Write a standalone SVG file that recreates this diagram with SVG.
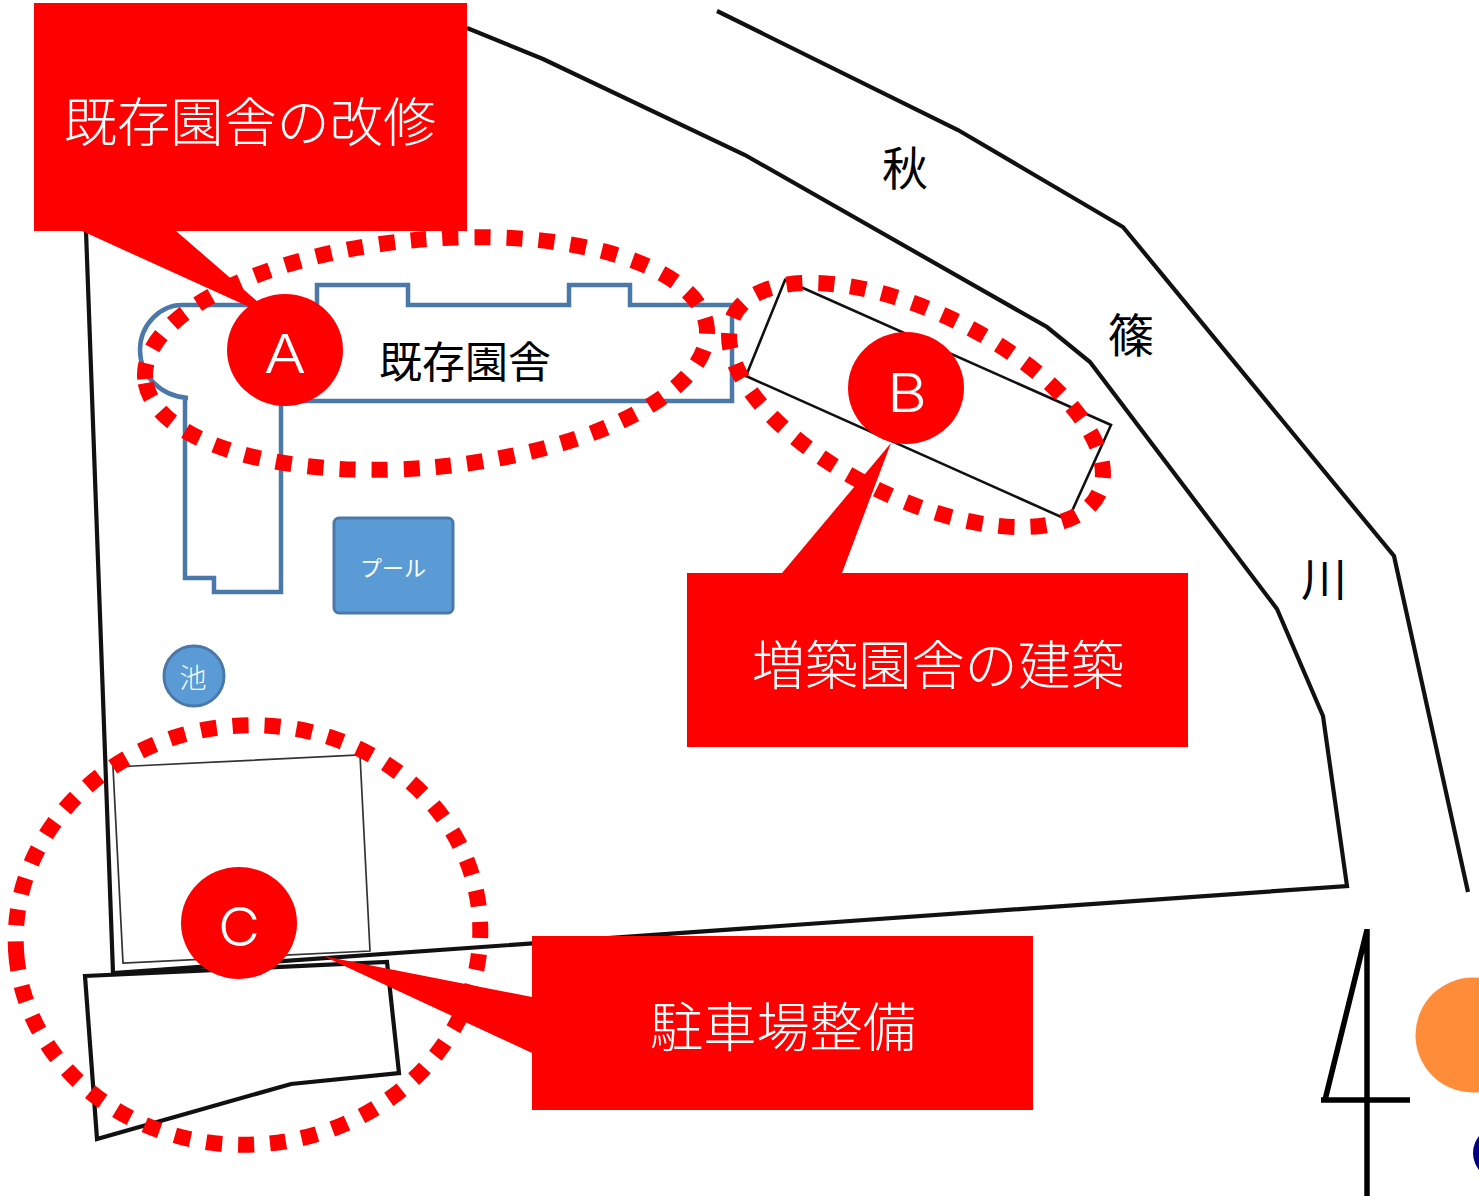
<svg xmlns="http://www.w3.org/2000/svg" width="1479" height="1196" viewBox="0 0 1479 1196">
<style>
text{font-family:"Noto Sans CJK JP","Noto Sans",sans-serif;text-anchor:middle}
.w{fill:#fff}.k{fill:#000}
.lbl{font-size:53.2px;font-weight:300}
.ltr{font-family:Inter,"Noto Sans",sans-serif;font-size:53px;font-weight:300}
.b{fill:none;stroke:#111;stroke-width:4.2;stroke-linejoin:miter}
.bl{fill:none;stroke:#4a78a8;stroke-width:4.5}
.dot{fill:none;stroke:#f00;stroke-width:16;stroke-dasharray:16 16}
.red{fill:#f00}
</style>
<rect width="1479" height="1196" fill="#fff"/>
<g id="site">
<path class="b" d="M467 28L543 59L745 155L1047 327L1090 362L1277 609L1323 716L1347 886L113 973L86 231"/>
<path class="b" d="M717 11L958 130L1123 227L1394 556L1468 892"/>
<path class="b" d="M85 976L387 962L399 1073L291 1084L97 1139Z"/>
<path fill="none" stroke="#333" stroke-width="1.7" d="M113 767L360 755L370 951L123 963Z"/>
<path fill="none" stroke="#111" stroke-width="2.6" d="M785 280L1111 425L1068 520L746 376Z"/>
</g>
<g id="old-building">
<path class="bl" d="M182 305H317V285H408V305H569V285H630V305H732V401H281V592H214V578H185V398H188C160 396 140 375 140 350C140 325 160 305 182 305Z"/>
<text class="k" x="465" y="378" font-size="43">既存園舎</text>
</g>
<g id="pool"><rect x="334" y="518" width="119" height="95" rx="5" fill="#5b9bd5" stroke="#4a78a8" stroke-width="3"/><text class="w" x="393" y="576" font-size="22">プール</text></g>
<g id="pond"><circle cx="194" cy="676" r="30" fill="#5b9bd5" stroke="#4a78a8" stroke-width="3"/><text class="w" x="193" y="688" font-size="27" font-weight="300">池</text></g>
<g id="river"><text class="k" x="905" y="185" font-size="46">秋</text><text class="k" x="1131" y="352" font-size="46">篠</text><text class="k" x="1324" y="596" font-size="46">川</text></g>
<g id="zones">
<path class="dot" d="M144 353.5A282 114 0 1 1 708 353.5A282 114 0 1 1 144 353.5" transform="rotate(-5.2 426 353.5)"/>
<path class="dot" d="M713 405A203 93 0 1 1 1119 405A203 93 0 1 1 713 405" transform="rotate(26 916 405)"/>
<path class="dot" d="M15.5 935A232.5 209.5 0 1 1 480.5 935A232.5 209.5 0 1 1 15.5 935" transform="rotate(-5.5 248 935)"/>
</g>
<g id="callout-a"><path class="red" d="M34 3H467V231H176L280 321L82 231H34Z"/><text class="w lbl" x="250" y="142">既存園舎の改修</text></g>
<g id="callout-b"><path class="red" d="M687 573H782L891 443L842 573H1188V747H687Z"/><text class="w lbl" x="938" y="685">増築園舎の建築</text></g>
<g id="callout-c"><path class="red" d="M532 936H1033V1110H532V1053L323 956L532 997Z"/><text class="w lbl" x="783" y="1047">駐車場整備</text></g>
<g id="marker-a"><ellipse class="red" cx="285" cy="350" rx="58" ry="56"/><text class="w ltr" x="285" y="373" textLength="42" lengthAdjust="spacingAndGlyphs">A</text></g>
<g id="marker-b"><ellipse class="red" cx="906" cy="388" rx="58" ry="56"/><text class="w ltr" x="907" y="412" textLength="40" lengthAdjust="spacingAndGlyphs">B</text></g>
<g id="marker-c"><ellipse class="red" cx="239" cy="923" rx="58" ry="56"/><text class="w ltr" x="239" y="946" textLength="42" lengthAdjust="spacingAndGlyphs">C</text></g>
<g id="north">
<path fill="none" stroke="#000" stroke-width="5.5" d="M1367 929V1196M1367 930L1325 1100M1321 1100H1410"/>
<circle cx="1473" cy="1035" r="57.5" fill="#ff8c38"/>
<circle cx="1500" cy="1153" r="27" fill="#000080"/>
</g>
</svg>
